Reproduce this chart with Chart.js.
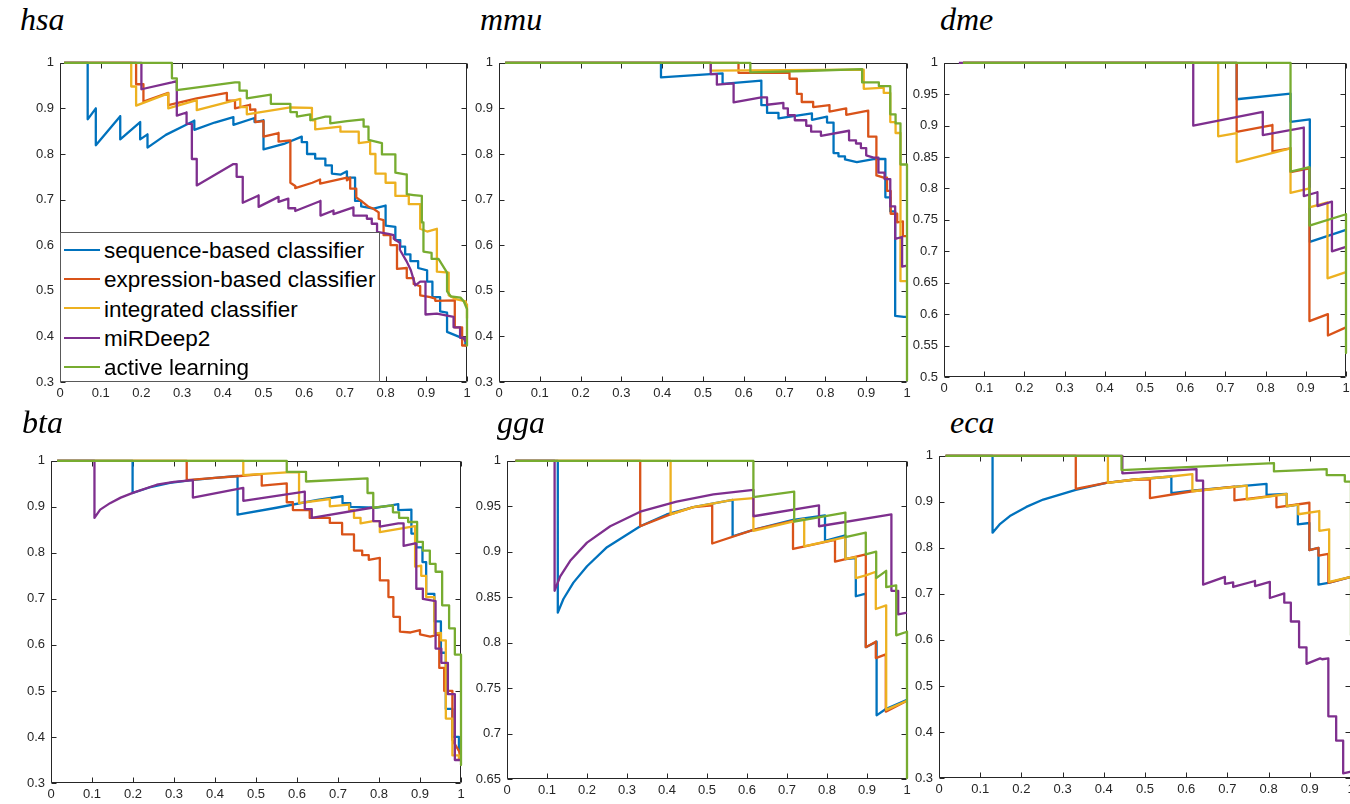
<!DOCTYPE html>
<html>
<head>
<meta charset="utf-8">
<script src="https://cdn.jsdelivr.net/npm/chart.js@4.4.0/dist/chart.umd.min.js"></script>
<style>
  html, body { margin: 0; padding: 0; background: #fff; width: 1350px; height: 804px; overflow: hidden; position: relative; }
  canvas { position: absolute; }
  .title { position: absolute; font-family: "Liberation Serif", "DejaVu Serif", serif; font-style: italic; font-size: 32px; line-height: 32px; color: #000; white-space: nowrap; }
  .legend { position: absolute; left: 60px; top: 232px; width: 320px; height: 150px; box-sizing: border-box; border: 1px solid #595959; background: #fff; padding-top: 2px; }
  .legend .row { position: relative; height: 29.35px; line-height: 29.35px; font-family: "Liberation Sans", Arial, sans-serif; font-size: 22.5px; color: #000; white-space: nowrap; }
  .legend .swatch { position: absolute; left: 3px; top: 13.5px; width: 36px; height: 2.3px; }
  .legend .label { position: absolute; left: 43px; top: 1px; }
</style>
</head>
<body>
<script>
'use strict';

// ---------- shared labels / ticks ----------
const seriesNames = ['sequence-based classifier', 'expression-based classifier', 'integrated classifier', 'miRDeep2', 'active learning'];
const seriesColors = ['#0072BD', '#D95319', '#EDB120', '#7E2F8E', '#77AC30'];

const xTickValues = [0, 0.1, 0.2, 0.3, 0.4, 0.5, 0.6, 0.7, 0.8, 0.9, 1];
const xTickLabels = ['0', '0.1', '0.2', '0.3', '0.4', '0.5', '0.6', '0.7', '0.8', '0.9', '1'];
const yTickValues = [0.3, 0.4, 0.5, 0.6, 0.7, 0.8, 0.9, 1];
const yTickLabels = ['0.3', '0.4', '0.5', '0.6', '0.7', '0.8', '0.9', '1'];
const yTickValuesDme = [0.5, 0.55, 0.6, 0.65, 0.7, 0.75, 0.8, 0.85, 0.9, 0.95, 1];
const yTickLabelsDme = ['0.5', '0.55', '0.6', '0.65', '0.7', '0.75', '0.8', '0.85', '0.9', '0.95', '1'];
const yTickValuesGga = [0.65, 0.7, 0.75, 0.8, 0.85, 0.9, 0.95, 1];
const yTickLabelsGga = ['0.65', '0.7', '0.75', '0.8', '0.85', '0.9', '0.95', '1'];

// ---------- curves: [recall, precision] ----------
// hsa
const hsaSeq = [[0.01,1],[0.068,1],[0.068,0.876],[0.088,0.9],[0.088,0.819],[0.148,0.883],[0.148,0.832],[0.197,0.87],[0.197,0.832],[0.215,0.843],[0.215,0.814],[0.26,0.842],[0.31,0.864],[0.33,0.873],[0.33,0.853],[0.38,0.869],[0.426,0.881],[0.426,0.864],[0.478,0.879],[0.478,0.87],[0.5,0.874],[0.5,0.81],[0.55,0.822],[0.594,0.838],[0.594,0.826],[0.607,0.826],[0.607,0.80],[0.627,0.80],[0.627,0.79],[0.652,0.79],[0.652,0.775],[0.668,0.775],[0.668,0.757],[0.69,0.755],[0.705,0.762],[0.705,0.748],[0.725,0.748],[0.725,0.697],[0.74,0.697],[0.74,0.685],[0.77,0.68],[0.80,0.687],[0.80,0.643],[0.824,0.64],[0.824,0.611],[0.836,0.611],[0.836,0.597],[0.848,0.597],[0.848,0.58],[0.861,0.58],[0.861,0.565],[0.88,0.565],[0.88,0.55],[0.902,0.545],[0.902,0.52],[0.915,0.52],[0.915,0.486],[0.934,0.486],[0.934,0.455],[0.951,0.452],[0.951,0.41],[0.984,0.398],[0.996,0.392],[0.996,0.38]];
const hsaExpr = [[0.01,1],[0.187,1],[0.187,0.953],[0.205,0.953],[0.205,0.915],[0.266,0.934],[0.266,0.907],[0.336,0.922],[0.41,0.934],[0.41,0.917],[0.43,0.917],[0.43,0.9],[0.467,0.908],[0.467,0.897],[0.48,0.898],[0.48,0.87],[0.5,0.872],[0.5,0.838],[0.537,0.846],[0.537,0.827],[0.566,0.83],[0.566,0.737],[0.578,0.73],[0.578,0.725],[0.62,0.737],[0.639,0.744],[0.639,0.735],[0.705,0.748],[0.705,0.742],[0.713,0.748],[0.713,0.724],[0.728,0.724],[0.728,0.705],[0.74,0.697],[0.757,0.685],[0.77,0.68],[0.783,0.672],[0.783,0.658],[0.795,0.655],[0.795,0.622],[0.812,0.622],[0.812,0.6],[0.828,0.6],[0.828,0.548],[0.852,0.55],[0.852,0.528],[0.869,0.528],[0.869,0.515],[0.885,0.51],[0.885,0.49],[0.91,0.486],[0.922,0.483],[0.922,0.478],[0.97,0.479],[0.97,0.42],[0.988,0.42],[0.988,0.38],[1,0.38]];
const hsaInt = [[0.01,1],[0.175,1],[0.175,0.948],[0.187,0.948],[0.187,0.906],[0.266,0.933],[0.266,0.9],[0.336,0.918],[0.336,0.896],[0.443,0.921],[0.443,0.903],[0.459,0.903],[0.459,0.887],[0.566,0.902],[0.619,0.901],[0.619,0.874],[0.627,0.874],[0.627,0.854],[0.689,0.86],[0.689,0.849],[0.734,0.849],[0.734,0.824],[0.762,0.827],[0.762,0.80],[0.775,0.80],[0.775,0.757],[0.8,0.757],[0.8,0.737],[0.824,0.737],[0.824,0.708],[0.857,0.708],[0.857,0.69],[0.885,0.69],[0.885,0.636],[0.902,0.63],[0.926,0.636],[0.926,0.542],[0.955,0.54],[0.955,0.49],[0.975,0.481],[0.997,0.477],[0.997,0.47],[1,0.47],[1,0.44]];
const hsaMir = [[0.01,1],[0.2,1],[0.2,0.942],[0.275,0.957],[0.287,0.96],[0.287,0.884],[0.311,0.891],[0.311,0.866],[0.324,0.866],[0.324,0.789],[0.336,0.789],[0.336,0.731],[0.426,0.778],[0.434,0.778],[0.434,0.75],[0.449,0.75],[0.449,0.693],[0.488,0.709],[0.488,0.684],[0.537,0.706],[0.537,0.695],[0.561,0.702],[0.561,0.681],[0.578,0.681],[0.578,0.675],[0.64,0.697],[0.64,0.665],[0.672,0.676],[0.672,0.668],[0.721,0.683],[0.721,0.665],[0.754,0.665],[0.754,0.658],[0.766,0.658],[0.766,0.647],[0.779,0.647],[0.779,0.629],[0.807,0.625],[0.82,0.622],[0.82,0.614],[0.835,0.605],[0.835,0.59],[0.852,0.564],[0.862,0.545],[0.873,0.512],[0.885,0.52],[0.898,0.52],[0.898,0.448],[0.926,0.45],[0.967,0.443],[0.967,0.42],[0.983,0.42],[0.983,0.397],[0.995,0.397],[0.995,0.39]];
const hsaAct = [[0.01,1],[0.275,1],[0.275,0.966],[0.287,0.966],[0.287,0.94],[0.43,0.957],[0.441,0.957],[0.441,0.939],[0.459,0.939],[0.459,0.922],[0.518,0.93],[0.518,0.91],[0.566,0.91],[0.566,0.892],[0.582,0.892],[0.582,0.882],[0.615,0.887],[0.615,0.874],[0.652,0.882],[0.664,0.882],[0.664,0.867],[0.705,0.872],[0.746,0.876],[0.746,0.86],[0.758,0.86],[0.758,0.831],[0.791,0.824],[0.791,0.799],[0.824,0.799],[0.824,0.759],[0.852,0.755],[0.852,0.712],[0.869,0.71],[0.889,0.708],[0.889,0.65],[0.893,0.65],[0.893,0.586],[0.913,0.583],[0.913,0.57],[0.93,0.57],[0.951,0.54],[0.951,0.499],[0.96,0.488],[0.984,0.485],[0.992,0.477],[1,0.46],[1,0.38]];

// mmu
const mmuSeq = [[0.015,1],[0.397,1],[0.397,0.968],[0.518,0.975],[0.548,0.977],[0.548,0.954],[0.643,0.961],[0.643,0.907],[0.657,0.907],[0.657,0.89],[0.685,0.89],[0.685,0.878],[0.767,0.889],[0.767,0.875],[0.804,0.882],[0.804,0.869],[0.82,0.869],[0.82,0.802],[0.832,0.802],[0.832,0.795],[0.848,0.795],[0.848,0.788],[0.877,0.782],[0.918,0.789],[0.947,0.789],[0.947,0.705],[0.959,0.705],[0.959,0.674],[0.971,0.674],[0.971,0.445],[0.992,0.443],[1,0.443]];
const mmuExpr = [[0.015,1],[0.587,1],[0.587,0.978],[0.712,0.978],[0.712,0.965],[0.73,0.965],[0.73,0.932],[0.742,0.932],[0.742,0.914],[0.77,0.914],[0.77,0.903],[0.81,0.907],[0.81,0.893],[0.851,0.9],[0.851,0.886],[0.905,0.895],[0.905,0.838],[0.925,0.838],[0.925,0.753],[0.943,0.748],[0.951,0.748],[0.951,0.719],[0.96,0.719],[0.96,0.669],[0.976,0.669],[0.976,0.65],[0.99,0.652],[0.99,0.62],[1,0.62]];
const mmuInt = [[0.015,1],[0.519,1],[0.519,0.983],[0.7,0.984],[0.894,0.985],[0.894,0.943],[0.935,0.945],[0.943,0.945],[0.943,0.934],[0.959,0.934],[0.959,0.87],[0.972,0.87],[0.972,0.846],[0.984,0.846],[0.984,0.521],[1,0.521]];
const mmuMir = [[0.015,1],[0.519,1],[0.519,0.975],[0.534,0.975],[0.534,0.952],[0.575,0.955],[0.575,0.913],[0.643,0.924],[0.657,0.924],[0.657,0.908],[0.697,0.912],[0.697,0.9],[0.708,0.9],[0.708,0.885],[0.725,0.885],[0.725,0.874],[0.753,0.874],[0.753,0.862],[0.765,0.862],[0.765,0.849],[0.789,0.849],[0.789,0.84],[0.858,0.851],[0.858,0.83],[0.875,0.83],[0.875,0.823],[0.887,0.823],[0.887,0.813],[0.9,0.813],[0.9,0.797],[0.918,0.792],[0.93,0.792],[0.93,0.759],[0.945,0.759],[0.945,0.745],[0.959,0.745],[0.959,0.685],[0.971,0.685],[0.971,0.614],[0.988,0.618],[0.988,0.553],[1,0.555]];
const mmuAct = [[0.015,1],[0.616,1],[0.616,0.979],[0.75,0.982],[0.89,0.986],[0.89,0.957],[0.931,0.957],[0.931,0.949],[0.959,0.949],[0.959,0.887],[0.972,0.887],[0.972,0.867],[0.984,0.867],[0.984,0.777],[1,0.777],[1,0.304]];

// dme
const dmeSeq = [[0.047,1],[0.728,1],[0.728,0.942],[0.862,0.951],[0.862,0.906],[0.91,0.91],[0.91,0.715],[1,0.734]];
const dmeExpr = [[0.047,1],[0.728,1],[0.728,0.89],[0.817,0.901],[0.817,0.859],[0.862,0.864],[0.862,0.826],[0.909,0.832],[0.909,0.589],[0.955,0.6],[0.955,0.566],[1,0.579]];
const dmeInt = [[0.047,1],[0.682,1],[0.682,0.883],[0.728,0.888],[0.728,0.842],[0.862,0.864],[0.862,0.793],[0.909,0.80],[0.909,0.77],[0.954,0.778],[0.954,0.657],[1,0.667]];
const dmeMir = [[0.037,1],[0.62,1],[0.62,0.90],[0.793,0.922],[0.793,0.885],[0.895,0.897],[0.895,0.788],[0.929,0.794],[0.929,0.772],[0.965,0.779],[0.965,0.70],[1,0.707]];
const dmeAct = [[0.047,1],[0.862,1],[0.862,0.827],[0.909,0.834],[0.909,0.741],[1,0.759],[1,0.538]];

// bta
const btaSeq = [[0.015,1],[0.199,1],[0.199,0.93],[0.24,0.942],[0.29,0.952],[0.343,0.958],[0.4,0.963],[0.455,0.967],[0.455,0.883],[0.55,0.898],[0.65,0.915],[0.711,0.923],[0.711,0.908],[0.73,0.908],[0.73,0.9],[0.79,0.898],[0.83,0.903],[0.847,0.906],[0.847,0.893],[0.879,0.894],[0.879,0.842],[0.891,0.842],[0.891,0.812],[0.906,0.812],[0.906,0.78],[0.915,0.78],[0.915,0.711],[0.935,0.711],[0.935,0.651],[0.951,0.651],[0.951,0.583],[0.963,0.583],[0.963,0.461],[0.979,0.461],[0.979,0.40],[0.995,0.40],[0.995,0.37]];
const btaExpr = [[0.015,1],[0.331,1],[0.331,0.958],[0.4,0.963],[0.461,0.967],[0.514,0.971],[0.514,0.946],[0.575,0.951],[0.575,0.91],[0.59,0.91],[0.59,0.893],[0.631,0.893],[0.631,0.876],[0.68,0.876],[0.68,0.865],[0.71,0.865],[0.71,0.84],[0.739,0.84],[0.739,0.805],[0.759,0.805],[0.759,0.795],[0.775,0.795],[0.775,0.785],[0.802,0.789],[0.802,0.74],[0.823,0.74],[0.823,0.704],[0.835,0.704],[0.835,0.661],[0.851,0.661],[0.851,0.629],[0.877,0.627],[0.9,0.632],[0.9,0.623],[0.925,0.618],[0.947,0.623],[0.947,0.55],[0.959,0.55],[0.959,0.5],[0.979,0.5],[0.979,0.393],[0.995,0.37],[1,0.35]];
const btaInt = [[0.015,1],[0.469,1],[0.469,0.969],[0.575,0.975],[0.605,0.975],[0.605,0.908],[0.68,0.917],[0.68,0.901],[0.727,0.905],[0.727,0.893],[0.739,0.893],[0.739,0.876],[0.755,0.876],[0.755,0.864],[0.786,0.869],[0.802,0.869],[0.802,0.845],[0.888,0.858],[0.888,0.77],[0.903,0.772],[0.903,0.75],[0.915,0.75],[0.915,0.704],[0.935,0.704],[0.935,0.625],[0.951,0.626],[0.951,0.61],[0.963,0.61],[0.963,0.44],[0.979,0.44],[0.979,0.36],[0.995,0.36],[0.995,0.35]];
const btaMir = [[0.015,1],[0.106,1],[0.106,0.876],[0.12,0.894],[0.144,0.908],[0.17,0.92],[0.201,0.931],[0.258,0.948],[0.3,0.954],[0.346,0.958],[0.346,0.92],[0.469,0.941],[0.469,0.913],[0.619,0.933],[0.619,0.895],[0.636,0.895],[0.636,0.876],[0.782,0.898],[0.786,0.898],[0.786,0.869],[0.802,0.869],[0.802,0.857],[0.847,0.864],[0.86,0.864],[0.86,0.815],[0.891,0.821],[0.891,0.722],[0.907,0.722],[0.907,0.70],[0.938,0.695],[0.938,0.592],[0.952,0.592],[0.952,0.561],[0.968,0.561],[0.968,0.493],[0.985,0.493],[0.985,0.35],[1,0.35]];
const btaAct = [[0.015,1],[0.575,1],[0.575,0.976],[0.622,0.976],[0.622,0.955],[0.772,0.962],[0.772,0.93],[0.786,0.93],[0.786,0.898],[0.834,0.903],[0.834,0.888],[0.849,0.888],[0.849,0.876],[0.871,0.876],[0.871,0.867],[0.893,0.867],[0.893,0.824],[0.907,0.824],[0.907,0.805],[0.924,0.805],[0.924,0.776],[0.938,0.776],[0.938,0.759],[0.954,0.759],[0.954,0.686],[0.971,0.686],[0.971,0.636],[0.985,0.636],[0.985,0.579],[1,0.579],[1,0.339]];

// gga
const ggaSeq = [[0.021,1],[0.127,1],[0.127,0.833],[0.141,0.848],[0.166,0.866],[0.2,0.884],[0.25,0.905],[0.333,0.928],[0.399,0.941],[0.466,0.949],[0.564,0.957],[0.564,0.917],[0.616,0.924],[0.715,0.935],[0.795,0.94],[0.795,0.912],[0.846,0.918],[0.846,0.892],[0.872,0.893],[0.872,0.851],[0.897,0.854],[0.897,0.795],[0.924,0.801],[0.924,0.72],[0.947,0.727],[1,0.737]];
const ggaExpr = [[0.021,1],[0.333,1],[0.333,0.928],[0.408,0.941],[0.466,0.949],[0.513,0.951],[0.513,0.909],[0.616,0.924],[0.715,0.934],[0.715,0.903],[0.82,0.913],[0.82,0.889],[0.897,0.897],[0.897,0.795],[0.922,0.801],[0.922,0.783],[0.947,0.787],[0.947,0.724],[1,0.736]];
const ggaInt = [[0.021,1],[0.409,1],[0.409,0.941],[0.466,0.949],[0.564,0.957],[0.616,0.959],[0.616,0.923],[0.743,0.936],[0.743,0.906],[0.846,0.916],[0.846,0.892],[0.872,0.894],[0.872,0.871],[0.897,0.874],[0.922,0.878],[0.922,0.837],[0.948,0.841],[0.948,0.726],[1,0.736]];
const ggaMir = [[0.021,1],[0.119,1],[0.119,0.857],[0.133,0.873],[0.158,0.89],[0.2,0.91],[0.258,0.928],[0.333,0.944],[0.424,0.955],[0.516,0.963],[0.616,0.968],[0.616,0.939],[0.78,0.951],[0.78,0.928],[0.961,0.941],[0.961,0.857],[0.978,0.857],[0.978,0.831],[1,0.833]];
const ggaAct = [[0.021,1],[0.616,1],[0.616,0.96],[0.718,0.966],[0.718,0.933],[0.846,0.943],[0.846,0.916],[0.897,0.921],[0.897,0.897],[0.923,0.9],[0.923,0.871],[0.948,0.879],[0.948,0.861],[0.973,0.863],[0.973,0.808],[1,0.812],[1,0.651]];

// eca
const ecaSeq = [[0.016,1],[0.13,1],[0.13,0.833],[0.147,0.851],[0.172,0.869],[0.212,0.889],[0.253,0.905],[0.332,0.926],[0.406,0.941],[0.471,0.948],[0.564,0.955],[0.564,0.919],[0.62,0.925],[0.747,0.935],[0.795,0.939],[0.795,0.915],[0.844,0.917],[0.844,0.89],[0.871,0.894],[0.871,0.851],[0.899,0.854],[0.899,0.795],[0.921,0.8],[0.921,0.72],[0.945,0.724],[1,0.737]];
const ecaExpr = [[0.016,1],[0.332,1],[0.332,0.928],[0.406,0.941],[0.471,0.948],[0.512,0.949],[0.512,0.908],[0.615,0.923],[0.717,0.933],[0.717,0.903],[0.819,0.914],[0.819,0.888],[0.899,0.898],[0.899,0.795],[0.921,0.8],[0.921,0.783],[0.945,0.787],[0.945,0.724],[1,0.737]];
const ecaInt = [[0.016,1],[0.41,1],[0.41,0.941],[0.471,0.948],[0.564,0.955],[0.615,0.96],[0.615,0.923],[0.747,0.935],[0.747,0.905],[0.844,0.917],[0.844,0.89],[0.872,0.894],[0.872,0.873],[0.923,0.88],[0.923,0.837],[0.947,0.84],[0.947,0.726],[1,0.737]];
const ecaMir = [[0.016,1],[0.445,1],[0.445,0.962],[0.625,0.971],[0.625,0.946],[0.641,0.946],[0.641,0.72],[0.694,0.737],[0.694,0.722],[0.714,0.725],[0.714,0.715],[0.767,0.728],[0.767,0.717],[0.803,0.726],[0.803,0.691],[0.838,0.701],[0.838,0.681],[0.854,0.681],[0.854,0.64],[0.874,0.64],[0.874,0.584],[0.892,0.584],[0.892,0.548],[0.925,0.56],[0.93,0.558],[0.945,0.56],[0.945,0.434],[0.964,0.434],[0.964,0.381],[0.981,0.381],[0.981,0.31],[1,0.314]];
const ecaAct = [[0.016,1],[0.443,1],[0.443,0.969],[0.813,0.984],[0.813,0.966],[0.941,0.971],[0.941,0.958],[0.985,0.958],[0.985,0.944],[1,0.944],[1,0.61]];

// ---------- panel layout (plot box in page pixels) ----------
const panels = [
  { name: 'hsa', L: 60,  T: 59,  R: 467,  B: 382, yMin: 0.3,  yVals: yTickValues,    yLabs: yTickLabels,    curves: [hsaSeq, hsaExpr, hsaInt, hsaMir, hsaAct], tx: 20,  ty: 3 },
  { name: 'mmu', L: 499, T: 59,  R: 907,  B: 382, yMin: 0.3,  yVals: yTickValues,    yLabs: yTickLabels,    curves: [mmuSeq, mmuExpr, mmuInt, mmuMir, mmuAct], tx: 480, ty: 3 },
  { name: 'dme', L: 944, T: 59,  R: 1346, B: 377, yMin: 0.5,  yVals: yTickValuesDme, yLabs: yTickLabelsDme, curves: [dmeSeq, dmeExpr, dmeInt, dmeMir, dmeAct], tx: 940, ty: 3 },
  { name: 'bta', L: 51,  T: 457, R: 461,  B: 783, yMin: 0.3,  yVals: yTickValues,    yLabs: yTickLabels,    curves: [btaSeq, btaExpr, btaInt, btaMir, btaAct], tx: 22,  ty: 406 },
  { name: 'gga', L: 507, T: 457, R: 907,  B: 779, yMin: 0.65, yVals: yTickValuesGga, yLabs: yTickLabelsGga, curves: [ggaSeq, ggaExpr, ggaInt, ggaMir, ggaAct], tx: 497, ty: 406 },
  { name: 'eca', L: 939, T: 452, R: 1351, B: 778, yMin: 0.3,  yVals: yTickValues,    yLabs: yTickLabels,    curves: [ecaSeq, ecaExpr, ecaInt, ecaMir, ecaAct], tx: 950, ty: 406 }
];

const AXIS_W = 50, AXIS_H = 25, PAD = 10, TICK_LEN = 5;
const axisColor = '#262626';
const tickFont = { family: '"Liberation Sans", Arial, sans-serif', size: 13 };

// box + inward tick marks on all four sides (MATLAB style)
const boxTicks = {
  id: 'boxTicks',
  beforeDatasetsDraw(chart) {
    const { ctx, chartArea: a, scales: { x, y } } = chart;
    const l = Math.round(a.left) + 0.5, r = Math.round(a.right) - 0.5;
    const t = Math.round(a.top) + 0.5, b = Math.round(a.bottom) - 0.5;
    ctx.save();
    ctx.strokeStyle = axisColor;
    ctx.lineWidth = 1;
    ctx.beginPath();
    ctx.rect(l, t, r - l, b - t);
    x.ticks.forEach(tk => {
      const px = Math.round(x.getPixelForValue(tk.value)) + 0.5;
      ctx.moveTo(px, b); ctx.lineTo(px, b - TICK_LEN);
      ctx.moveTo(px, t); ctx.lineTo(px, t + TICK_LEN);
    });
    y.ticks.forEach(tk => {
      const py = Math.round(y.getPixelForValue(tk.value)) + 0.5;
      ctx.moveTo(l, py); ctx.lineTo(l + TICK_LEN, py);
      ctx.moveTo(r, py); ctx.lineTo(r - TICK_LEN, py);
    });
    ctx.stroke();
    ctx.restore();
  }
};

function makePanel(p) {
  const title = document.createElement('div');
  title.className = 'title';
  title.textContent = p.name;
  title.style.left = p.tx + 'px';
  title.style.top = p.ty + 'px';
  document.body.appendChild(title);

  const cv = document.createElement('canvas');
  cv.width = p.R - p.L + AXIS_W + PAD;
  cv.height = p.B - p.T + AXIS_H + PAD;
  cv.style.left = (p.L - AXIS_W) + 'px';
  cv.style.top = (p.T - PAD) + 'px';
  document.body.appendChild(cv);

  const datasets = p.curves.map((pts, i) => ({
    label: seriesNames[i],
    data: pts.map(q => ({ x: q[0], y: q[1] })),
    borderColor: seriesColors[i],
    backgroundColor: seriesColors[i],
    borderWidth: 2.3,
    pointRadius: 0,
    tension: 0,
    fill: false,
    clip: false,
    borderJoinStyle: 'round',
    order: seriesNames.length - 1 - i
  }));

  new Chart(cv, {
    type: 'line',
    data: { datasets },
    options: {
      responsive: false,
      animation: false,
      events: [],
      layout: { padding: { left: 0, top: PAD, right: PAD, bottom: 0 } },
      plugins: { legend: { display: false }, tooltip: { enabled: false } },
      scales: {
        x: {
          type: 'linear', min: 0, max: 1,
          afterBuildTicks: s => { s.ticks = xTickValues.map(v => ({ value: v })); },
          afterFit: s => { s.height = AXIS_H; },
          grid: { display: false, drawTicks: false },
          border: { display: false },
          ticks: { autoSkip: false, maxRotation: 0, padding: 4, color: axisColor, font: tickFont, callback: (v, i) => xTickLabels[i] }
        },
        y: {
          type: 'linear', min: p.yMin, max: 1,
          afterBuildTicks: s => { s.ticks = p.yVals.map(v => ({ value: v })); },
          afterFit: s => { s.width = AXIS_W; },
          grid: { display: false, drawTicks: false },
          border: { display: false },
          ticks: { autoSkip: false, padding: 6, color: axisColor, font: tickFont, callback: (v, i) => p.yLabs[i] }
        }
      }
    },
    plugins: [boxTicks]
  });
}

panels.forEach(makePanel);

// legend of the hsa panel
const legend = document.createElement('div');
legend.className = 'legend';
seriesNames.forEach((n, i) => {
  const row = document.createElement('div');
  row.className = 'row';
  const sw = document.createElement('span');
  sw.className = 'swatch';
  sw.style.background = seriesColors[i];
  const lb = document.createElement('span');
  lb.className = 'label';
  lb.textContent = n;
  row.appendChild(sw);
  row.appendChild(lb);
  legend.appendChild(row);
});
document.body.appendChild(legend);
</script>
</body>
</html>
